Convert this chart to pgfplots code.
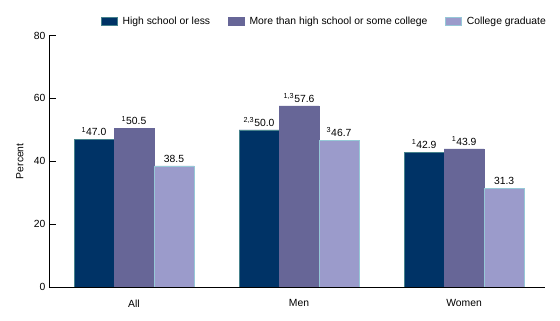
\documentclass[border=0pt]{standalone}
\usepackage{pgfplots}
\pgfplotsset{compat=1.18}
\usepackage{fontspec}
\setmainfont{Liberation Sans}
\definecolor{cA}{RGB}{0,51,102}
\definecolor{cB}{RGB}{103,102,151}
\definecolor{cC}{RGB}{155,155,203}
\definecolor{edgeA}{RGB}{70,130,140}
\definecolor{edgeC}{RGB}{150,200,215}
\begin{document}
\begin{tikzpicture}
\path[use as bounding box] (0,0) rectangle (560bp,321bp);
\begin{axis}[
  at={(49bp,34bp)}, anchor=south west,
  scale only axis, width=496bp, height=251.5bp,
  font=\fontsize{10.4}{12}\selectfont,
  /pgf/number format/assume math mode=true,
  axis lines*=left,
  axis line style={line width=0.9pt, black},
  ymin=0, ymax=80, ytick={0,20,40,60,80},
  xmin=-0.515, xmax=2.49,
  xtick={0,1,2}, xticklabels={All,Men,Women},
  xtick style={draw=none},
  xticklabel style={yshift=-2bp},
  ytick pos=left,
  major tick length=7bp,
  ytick style={line width=0.9pt, black},
  ylabel={Percent},
  ylabel style={at={(axis description cs:-0.0585,0.5)}, anchor=center},
  ybar=0pt, bar width=40bp,
  point meta=explicit symbolic,
  nodes near coords,
  every node near coord/.append style={font=\fontsize{10.4}{12}\selectfont, text=black},
  legend columns=-1,
  legend style={draw=none, fill=none, at={(axis description cs:1,1)}, anchor=east, yshift=14.5bp, xshift=3bp, inner sep=0pt,
    /tikz/every even column/.append style={column sep=16bp}},
  legend image code/.code={\fill[#1] (0bp,-4bp) rectangle (16bp,4bp); \path (19bp,0bp);},
]
\addplot[fill=cA, draw=edgeA, line width=0.4pt] coordinates {
  (0,47.0) [\textsuperscript{1}47.0]
  (1,50.0) [\textsuperscript{2,3}50.0]
  (2,42.9) [\textsuperscript{1}42.9]
};
\addplot[fill=cB, draw=cB, line width=0.4pt] coordinates {
  (0,50.5) [\textsuperscript{1}50.5]
  (1,57.6) [\textsuperscript{1,3}57.6]
  (2,43.9) [\textsuperscript{1}43.9]
};
\addplot[fill=cC, draw=edgeC, line width=0.4pt] coordinates {
  (0,38.5) [38.5]
  (1,46.7) [\textsuperscript{3}46.7]
  (2,31.3) [31.3]
};
\legend{High school or less, More than high school or some college, College graduate}
\end{axis}
\end{tikzpicture}
\end{document}
